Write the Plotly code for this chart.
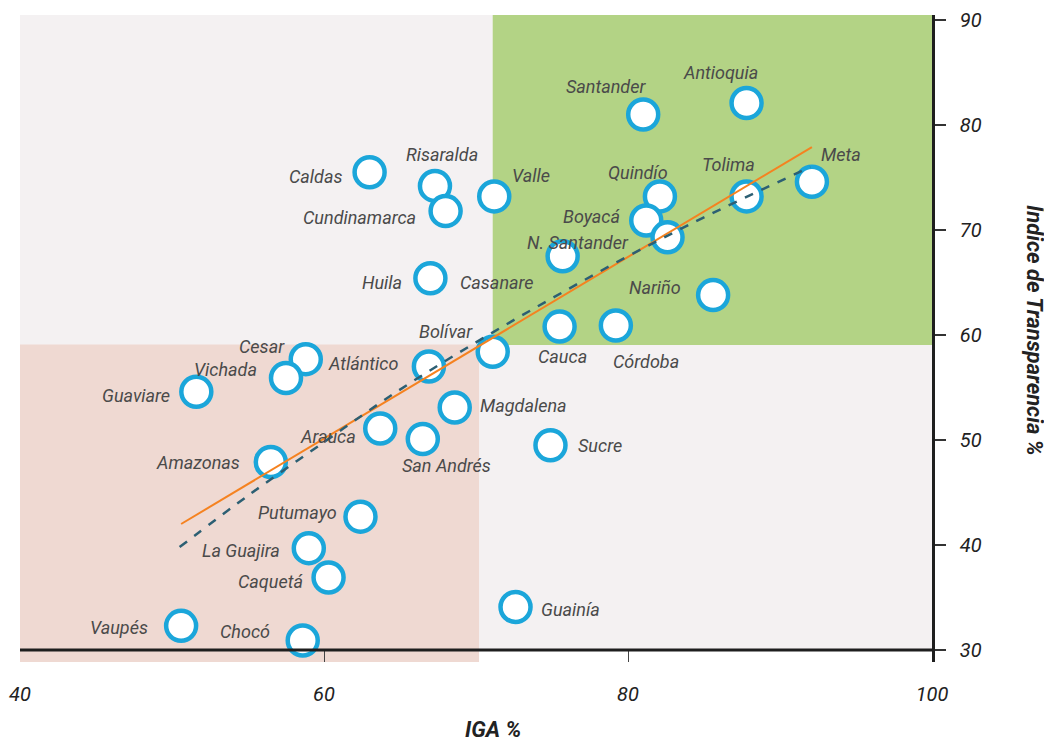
import plotly.graph_objects as go

# ---- data ----
names = ["Antioquia", "Santander", "Meta", "Tolima", "Quindío", "Boyacá", "N. Santander",
         "Valle", "Caldas", "Risaralda", "Cundinamarca", "Huila", "Casanare", "Nariño",
         "Cauca", "Córdoba", "Bolívar", "Atlántico", "Cesar", "Vichada", "Guaviare",
         "Magdalena", "Arauca", "San Andrés", "Sucre", "Amazonas", "Putumayo",
         "La Guajira", "Caquetá", "Guainía", "Vaupés", "Chocó"]
iga = [87.8, 81.0, 92.1, 87.8, 82.1, 81.2, 82.6,
       71.2, 63.0, 67.3, 68.0, 67.0, 75.7, 85.6,
       75.5, 79.2, 71.1, 66.9, 58.8, 57.5, 51.6,
       68.6, 63.7, 66.5, 74.9, 56.5, 62.4,
       59.0, 60.3, 72.6, 50.6, 58.6]
transparencia = [82.1, 81.0, 74.6, 73.2, 73.2, 70.9, 69.3,
                 73.2, 75.5, 74.2, 71.8, 65.4, 67.5, 63.8,
                 60.8, 60.9, 58.4, 57.0, 57.7, 55.9, 54.6,
                 53.1, 51.1, 50.1, 49.5, 47.9, 42.7,
                 39.7, 36.9, 34.1, 32.3, 30.9]

# linear trend (endpoints)
lin_x = [50.6, 92.1]
lin_y = [42.0, 77.9]
# curved (dashed) trend
curve_x = [50.5, 55, 60, 65, 70, 75, 80, 85, 92]
curve_y = [39.8, 44.7, 49.8, 54.8, 59.3, 63.5, 67.5, 71.2, 76.0]

x_ticks = [40, 60, 80, 100]
y_ticks = [30, 40, 50, 60, 70, 80, 90]

# ---- label placement (style) ----
label_style = {
    "Antioquia": ("center", -26, 30), "Santander": ("center", -37, 28),
    "Meta": ("left", 7, 27), "Tolima": ("center", -18, 32),
    "Quindío": ("center", -22, 24), "Boyacá": ("right", -24, 4),
    "N. Santander": ("right", -37, -5), "Valle": ("left", 16, 21),
    "Caldas": ("right", -26, -4), "Risaralda": ("center", 7, 31),
    "Cundinamarca": ("right", -28, -6), "Huila": ("right", -26, -4),
    "Casanare": ("right", -27, -26), "Nariño": ("right", -30, 8),
    "Cauca": ("center", 3, -30), "Córdoba": ("center", 30, -36),
    "Bolívar": ("center", -47, 20), "Atlántico": ("right", -29, 3),
    "Cesar": ("right", -19, 13), "Vichada": ("right", -27, 9),
    "Guaviare": ("right", -24, -4), "Magdalena": ("left", 23, 2),
    "Arauca": ("right", -22, -8), "San Andrés": ("center", 24, -27),
    "Sucre": ("left", 26, 0), "Amazonas": ("right", -29, 0),
    "Putumayo": ("right", -21, 4), "La Guajira": ("right", -27, -2),
    "Caquetá": ("right", -24, -4), "Guainía": ("left", 23, -3),
    "Vaupés": ("right", -31, -2), "Chocó": ("right", -31, 9),
}

FONT = "Roboto, Liberation Sans, sans-serif"
GRAY_BG = "#F4F1F2"
GREEN = "#B3D385"
PINK = "#EFD9D2"
BLUE = "#1BA6DA"
ORANGE = "#F58220"
TEAL = "#2C5F73"

YMIN, YMAX = 28.857, 90.476

fig = go.Figure()

fig.add_trace(go.Scatter(
    x=iga, y=transparencia, mode="markers",
    marker=dict(size=30, color="white", line=dict(color=BLUE, width=4.5)),
    hoverinfo="text", text=names, showlegend=False))

fig.add_trace(go.Scatter(x=lin_x, y=lin_y, mode="lines",
                         line=dict(color=ORANGE, width=2), showlegend=False))
fig.add_trace(go.Scatter(x=curve_x, y=curve_y, mode="lines",
                         line=dict(color=TEAL, width=2.5, dash="dash", shape="spline"),
                         showlegend=False))

shapes = [
    dict(type="rect", xref="x", yref="y", x0=40, x1=100, y0=30, y1=YMAX,
         fillcolor=GRAY_BG, line=dict(width=0), layer="below"),
    dict(type="rect", xref="x", yref="y", x0=40, x1=70.2, y0=YMIN, y1=59.1,
         fillcolor=PINK, line=dict(width=0), layer="below"),
    dict(type="rect", xref="x", yref="y", x0=71.1, x1=100, y0=59.05, y1=YMAX,
         fillcolor=GREEN, line=dict(width=0), layer="below"),
    dict(type="line", xref="x", yref="y", x0=40, x1=100, y0=30, y1=30,
         line=dict(color="#1E1E1E", width=3), layer="above"),
]

annotations = []
for n, x, y in zip(names, iga, transparencia):
    anc, dx, dy = label_style[n]
    annotations.append(dict(
        x=x, y=y, xref="x", yref="y", text=n, showarrow=False,
        xanchor=anc, yanchor="middle", xshift=dx, yshift=dy,
        font=dict(family=FONT, size=18, color="#4A4A4A", style="italic")))

annotations.append(dict(
    x=0.5186, y=-0.1036, xref="paper", yref="paper", text="<b>IGA %</b>",
    showarrow=False, xanchor="center", yanchor="middle",
    font=dict(family=FONT, size=22, color="#222222", style="italic")))
annotations.append(dict(
    x=1.113, y=0.513, xref="paper", yref="paper", text="<b>Índice de Transparencia %</b>",
    showarrow=False, xanchor="center", yanchor="middle", textangle=90,
    font=dict(family=FONT, size=22, color="#222222", style="italic")))

fig.update_layout(
    width=1044, height=733,
    margin=dict(l=12, r=120, t=7, b=79, autoexpand=False),
    paper_bgcolor="white", plot_bgcolor="white",
    shapes=shapes, annotations=annotations,
    showlegend=False,
    xaxis=dict(range=[40, 100], tickvals=x_ticks, ticktext=[str(v) for v in x_ticks],
               automargin=False,
               showgrid=False, zeroline=False, showline=False,
               ticks="inside", ticklen=12, tickwidth=1, tickcolor="#444444",
               ticklabelstandoff=18,
               tickfont=dict(family=FONT, size=20, color="#222222", style="italic")),
    yaxis=dict(range=[YMIN, YMAX], tickvals=y_ticks, ticktext=[str(v) for v in y_ticks],
               automargin=False,
               side="right", showgrid=False, zeroline=False,
               showline=True, linecolor="#1E1E1E", linewidth=2.5,
               ticks="outside", ticklen=11, tickwidth=1.5, tickcolor="#333333",
               ticklabelstandoff=10,
               tickfont=dict(family=FONT, size=20, color="#222222", style="italic")),
)

fig.write_html("out.html")
